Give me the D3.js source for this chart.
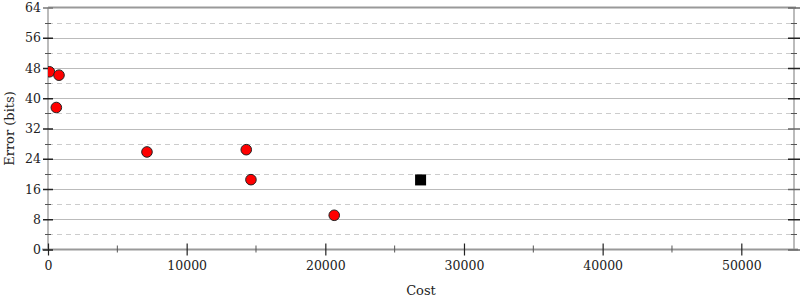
<!DOCTYPE html>
<html><head><meta charset="utf-8">
<script src="https://cdn.jsdelivr.net/npm/d3@7"></script>
<style>body{margin:0;background:#fff}svg{display:block}text{font-family:"DejaVu Serif",serif;}</style>
</head><body>
<script>
const costs = [100, 793, 600, 7138, 14298, 14636, 20642];
const errors = [47.0, 46.1, 37.55, 25.8, 26.4, 18.47, 9.05];
const bestCost = [26870];
const bestError = [18.4];
const yTicks = [0, 8, 16, 24, 32, 40, 48, 56, 64];
const xTicks = [0, 10000, 20000, 30000, 40000, 50000];

const W = 800, H = 300;
const svg = d3.select("body").append("svg").attr("width", W).attr("height", H);
const x = d3.scaleLinear().domain([0, 53800]).range([48, 794]);
const y = d3.scaleLinear().domain([0, 64]).range([249.5, 7.5]);

const minorY = d3.range(4, 64, 8);
const minorX = d3.range(5000, 53800, 10000);

// grid
svg.append("g").selectAll("line").data(yTicks.filter(d => d > 0 && d < 64)).join("line")
  .attr("x1", 48).attr("x2", 794).attr("y1", d => Math.round(y(d)) + 0.5).attr("y2", d => Math.round(y(d)) + 0.5)
  .attr("stroke", "#bbb").attr("stroke-width", 1);
svg.append("g").selectAll("line").data(minorY).join("line")
  .attr("x1", 48).attr("x2", 794).attr("y1", d => Math.round(y(d)) + 0.5).attr("y2", d => Math.round(y(d)) + 0.5)
  .attr("stroke", "#ccc").attr("stroke-width", 1).attr("stroke-dasharray", "5,4");

// frame lines
svg.append("line").attr("x1", 48).attr("x2", 796).attr("y1", y(64)).attr("y2", y(64)).attr("stroke", "#999").attr("stroke-width", 2);
svg.append("line").attr("x1", 48).attr("y1", y(64)).attr("x2", 48).attr("y2", y(0)).attr("stroke", "#bbb").attr("stroke-width", 2);
svg.append("line").attr("x1", 794).attr("y1", y(64)).attr("x2", 794).attr("y2", y(0)).attr("stroke", "#bbb").attr("stroke-width", 2);
svg.append("line").attr("x1", 42).attr("x2", 798).attr("y1", y(0)).attr("y2", y(0)).attr("stroke", "#999").attr("stroke-width", 2);

// left axis
const yAxis = d3.axisLeft(y).tickValues(yTicks).tickSize(5).tickPadding(4);
const gl = svg.append("g").attr("transform", "translate(48,0)").call(yAxis);
gl.select(".domain").remove();
gl.selectAll(".tick line").attr("x2", -5).attr("x1", 5).attr("stroke", "#222").attr("stroke-width", 1.5);
gl.selectAll("text").attr("font-size", 12.5).attr("fill", "#222").attr("x", -7).attr("font-family", "DejaVu Serif");
gl.selectAll(".tick").filter(d => d === 64).select("line").attr("stroke", "#777");
svg.append("g").selectAll("line").data(minorY).join("line")
  .attr("x1", 45).attr("x2", 51).attr("y1", d => Math.round(y(d)) + 0.5).attr("y2", d => Math.round(y(d)) + 0.5)
  .attr("stroke", "#555").attr("stroke-width", 1);

// right axis ticks
const yAxisR = d3.axisRight(y).tickValues(yTicks).tickSize(6).tickFormat("");
const gr = svg.append("g").attr("transform", "translate(794,0)").call(yAxisR);
gr.select(".domain").remove();
gr.selectAll(".tick line").attr("x1", -6).attr("x2", 6).attr("stroke", "#222").attr("stroke-width", 1.5);
gr.selectAll(".tick").filter(d => d === 64 || d === 32 || d === 16 || d === 0).select("line").attr("stroke", "#666");
svg.append("g").selectAll("line").data(minorY).join("line")
  .attr("x1", 791).attr("x2", 797).attr("y1", d => Math.round(y(d)) + 0.5).attr("y2", d => Math.round(y(d)) + 0.5)
  .attr("stroke", "#555").attr("stroke-width", 1);

// bottom axis
const xAxis = d3.axisBottom(x).tickValues(xTicks).tickSize(6).tickPadding(6).tickFormat(d3.format("d"));
const gb = svg.append("g").attr("transform", `translate(0,${y(0)})`).call(xAxis);
gb.select(".domain").remove();
gb.selectAll(".tick line").attr("y1", -6).attr("y2", 6).attr("stroke", "#222").attr("stroke-width", 1.2);
gb.selectAll("text").attr("font-size", 12.5).attr("fill", "#222").attr("font-family", "DejaVu Serif");
svg.append("g").selectAll("line").data(minorX).join("line")
  .attr("x1", d => x(d)).attr("x2", d => x(d)).attr("y1", y(0) - 4).attr("y2", y(0) + 3)
  .attr("stroke", "#555").attr("stroke-width", 1);

// titles
svg.append("text").attr("x", x(26900)).attr("y", 295).attr("text-anchor", "middle")
  .attr("font-size", 13).attr("fill", "#222").text("Cost");
svg.append("text").attr("transform", `translate(14,${(y(0) + y(64)) / 2}) rotate(-90)`).attr("text-anchor", "middle")
  .attr("font-size", 13).attr("fill", "#222").text("Error (bits)");

// points
svg.append("clipPath").attr("id", "pc").append("rect").attr("x", 48).attr("y", 0).attr("width", 750).attr("height", 260);
svg.append("g").attr("clip-path", "url(#pc)").selectAll("circle").data(costs.map((c, i) => [c, errors[i]])).join("circle")
  .attr("cx", d => x(d[0])).attr("cy", d => y(d[1])).attr("r", 5.3)
  .attr("fill", "#f00").attr("stroke", "#222").attr("stroke-width", 1);
svg.append("g").selectAll("rect").data(bestCost.map((c, i) => [c, bestError[i]])).join("rect")
  .attr("x", d => x(d[0]) - 5.5).attr("y", d => y(d[1]) - 5.5).attr("width", 11).attr("height", 11)
  .attr("fill", "#000");
</script>
</body></html>
